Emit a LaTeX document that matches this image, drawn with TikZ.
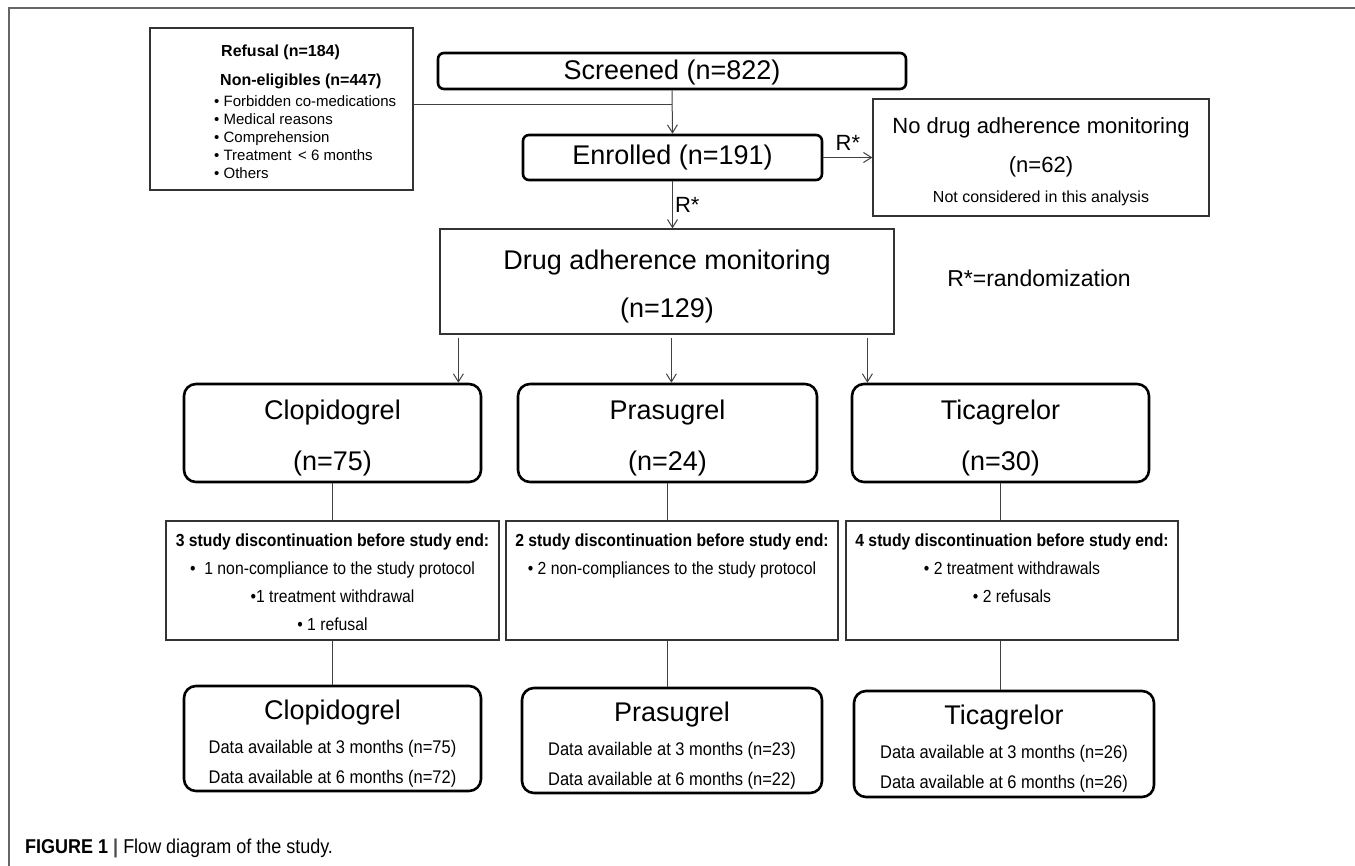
\documentclass[tikz,border=0pt]{standalone}
\usepackage{fontspec}
\setmainfont{Liberation Sans}
\newfontfamily\narrowsf[FakeStretch=0.9]{Liberation Sans}
\usepackage{tikz}
\usetikzlibrary{arrows.meta, positioning, calc}
\newcommand{\setfs}[2]{\fontsize{#1}{#2}\selectfont}
\newcommand{\topstrut}[1]{\rule{0pt}{#1}}

\begin{document}
\begin{tikzpicture}[x=1pt, y=-1pt,
    thin box/.style={draw=black!80, line width=1.2pt, inner sep=0pt, align=center},
    round box/.style={draw=black, line width=2.6pt, rounded corners=#1, inner sep=0pt, align=center},
    round box/.default=6pt,
    link/.style={draw=black!75, line width=1pt},
    arrow/.style={link, -{Straight Barb[length=8pt, width=10pt]}},
    rlabel/.style={font=\setfs{22}{22}, inner sep=2pt}]

    \useasboundingbox (0,0) rectangle (1355,866);
    % figure frame
    \draw[black!60, line width=1.2pt] (1355,8) -| (9,866);

    % screening part
    \node[thin box, minimum width=263pt, minimum height=162pt] (exclusion) at (281.5,109) {};
    \node[anchor=west, align=left, inner sep=0pt, font=\setfs{15}{18}] (reasons) at (214,112) {%
        \hspace*{7pt}{\setfs{16}{18}\bfseries Refusal (n=184)}\\[11pt]
        \hspace*{6pt}{\setfs{16}{18}\bfseries Non-eligibles (n=447)}\\[3pt]
        • Forbidden co-medications\\
        • Medical reasons\\
        • Comprehension\\
        • Treatment \,< 6 months\\
        • Others};
    \node[round box, minimum width=468pt, minimum height=36pt, font=\setfs{27}{27}] (screened) at (672,71) {\topstrut{22pt}Screened (n=822)};
    \node[round box, minimum width=299pt, minimum height=45pt, font=\setfs{27}{27}] (enrolled) at (672.5,157.5) {Enrolled (n=191)};
    \node[thin box, minimum width=336pt, minimum height=117pt, font=\setfs{22}{22}] (nodrug) at (1041,157.5)
        {\topstrut{25pt}No drug adherence monitoring\\[17pt] (n=62)\\[8.3pt] {\setfs{16}{16}Not considered in this analysis}};
    \node[thin box, minimum width=454pt, minimum height=105pt, font=\setfs{27}{27}] (drug) at (667,281.5)
        {\topstrut{29pt}Drug adherence monitoring\\[21pt] (n=129)};
    \node[font=\setfs{23}{23}] (rnote) at (1039,278) {R*=randomization};

    \coordinate (join) at ($(screened.south)!0.33!(enrolled.north)$);
    \draw[link] (exclusion.east |- join) -- (join);
    \draw[arrow] (screened.south) -- (enrolled.north);
    \draw[arrow] (enrolled.east) -- (nodrug.west) node[midway, above=4pt, rlabel] {R*};
    \draw[arrow] (enrolled.south) -- (enrolled.south |- drug.north) node[midway, right=0pt, rlabel] {R*};

    % treatment groups
    \node[round box=12pt, minimum width=297pt, minimum height=98pt, font=\setfs{27}{27}] (clop) at (332.5,433) {\topstrut{29pt}Clopidogrel\\[24pt] (n=75)};
    \node[round box=12pt, minimum width=299pt, minimum height=98pt, font=\setfs{27}{27}] (pras) at (667.5,433) {\topstrut{29pt}Prasugrel\\[24pt] (n=24)};
    \node[round box=12pt, minimum width=297pt, minimum height=98pt, font=\setfs{27}{27}] (tica) at (1000.5,433) {\topstrut{29pt}Ticagrelor\\[24pt] (n=30)};

    % discontinuations
    \node[thin box, minimum width=333pt, minimum height=119pt, font=\narrowsf\setfs{17.5}{17.5}] (clop-disc) at (332.5,580.5)
        {\topstrut{16pt}\textbf{3 study discontinuation before study end:}\\[10.5pt]
         • \ 1 non-compliance to the study protocol\\[10.5pt]
         •1 treatment withdrawal\\[10.5pt]
         • 1 refusal};
    \node[thin box, minimum width=332pt, minimum height=119pt, font=\narrowsf\setfs{17.5}{17.5}] (pras-disc) at (672,580.5)
        {\topstrut{16pt}\textbf{2 study discontinuation before study end:}\\[10.5pt]
         • 2 non-compliances to the study protocol\\[10.5pt]
         \mbox{}\\[10.5pt] \mbox{}};
    \node[thin box, minimum width=332pt, minimum height=119pt, font=\narrowsf\setfs{17.5}{17.5}] (tica-disc) at (1012,580.5)
        {\topstrut{16pt}\textbf{4 study discontinuation before study end:}\\[10.5pt]
         • 2 treatment withdrawals\\[10.5pt]
         • 2 refusals\\[10.5pt] \mbox{}};

    % data available
    \node[round box=12pt, minimum width=297pt, minimum height=105pt, font=\narrowsf\setfs{18.3}{27}] (clop-end) at (332.5,738.5)
        {{\rmfamily\setfs{27}{27}\topstrut{29pt}Clopidogrel}\\[7pt] Data available at 3 months (n=75)\\[3pt] Data available at 6 months (n=72)};
    \node[round box=12pt, minimum width=300pt, minimum height=105pt, font=\narrowsf\setfs{18.3}{27}] (pras-end) at (672,740.5)
        {{\rmfamily\setfs{27}{27}\topstrut{30pt}Prasugrel}\\[7pt] Data available at 3 months (n=23)\\[3pt] Data available at 6 months (n=22)};
    \node[round box=12pt, minimum width=300pt, minimum height=106pt, font=\narrowsf\setfs{18.3}{27}] (tica-end) at (1004,744)
        {{\rmfamily\setfs{27}{27}\topstrut{28pt}Ticagrelor}\\[7pt] Data available at 3 months (n=26)\\[3pt] Data available at 6 months (n=26)};

    % connectors
    \foreach \n/\dx in {clop/19, pras/232, tica/428} {
        \coordinate (fork) at ([xshift=\dx pt, yshift=-3pt]drug.south west);
        \draw[arrow] (fork) -- (fork |- \n.north);
        \draw[link] (\n.south) -- (\n.south |- \n-disc.north);
        \draw[link] (\n-disc.south -| \n.south) -- (\n.south |- \n-end.north);
    }

    \node[anchor=west, inner sep=0pt, font=\narrowsf\setfs{20}{22}] (caption) at (25,848)
        {\textbf{FIGURE 1} {\color{black!70}\textbf{|}} Flow diagram of the study.};
\end{tikzpicture}
\end{document}
